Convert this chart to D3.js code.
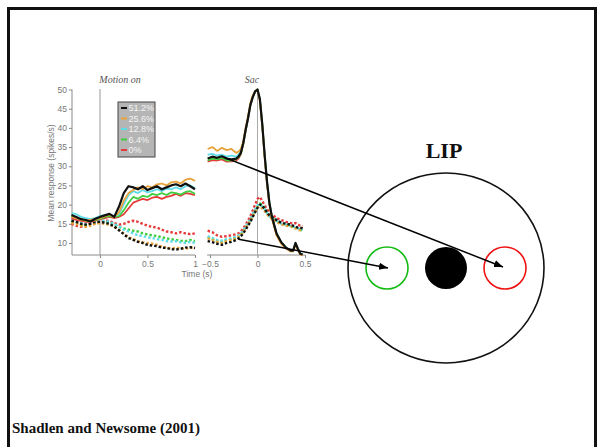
<!DOCTYPE html>
<html>
<head>
<meta charset="utf-8">
<script src="https://cdn.jsdelivr.net/npm/d3@7"></script>
<style>
  html, body { margin: 0; padding: 0; background: #fff; }
  svg { display: block; }
</style>
</head>
<body>
<svg id="chart" width="597" height="447"></svg>
<script>
// 코히런스 조건
var cohLabels = ["51.2%", "25.6%", "12.8%", "6.4%", "0%"];
var cohColors = ["#111111", "#e8a23a", "#5fdde6", "#3fce3f", "#e63a3a"];

// 자극 정렬 (Motion on) 시간축
var tMotion = [-0.3,-0.25,-0.2,-0.15,-0.1,-0.05,0,0.05,0.1,0.15,0.2,0.25,0.3,0.35,0.4,0.45,0.5,0.55,0.6,0.65,0.7,0.75,0.8,0.85,0.9,0.95,1.0];

// RF 안쪽 선택 (실선): 51.2, 25.6, 12.8, 6.4, 0
var motionIn = [
  [17.3,16.8,16.2,16.0,15.6,16.3,16.8,17.2,17.6,16.8,19.5,23.0,24.8,24.5,24.0,24.8,23.8,24.3,24.8,24.0,24.5,25.0,25.3,24.8,25.5,24.8,24.0],
  [16.8,16.5,16.0,15.8,16.0,16.2,16.5,17.0,17.3,16.8,18.0,21.0,23.0,23.8,24.5,24.0,24.8,24.5,25.3,25.5,25.0,25.8,26.0,25.5,26.5,26.8,26.2],
  [17.8,17.5,16.8,16.5,16.2,16.5,17.0,17.3,17.5,17.0,17.5,20.0,22.5,23.5,23.0,23.8,23.2,23.5,24.0,23.5,24.2,24.0,24.5,24.0,24.8,25.0,24.3],
  [17.0,16.5,16.2,15.8,15.8,16.0,16.3,16.8,17.0,16.8,17.0,18.5,20.5,22.0,21.5,22.3,22.0,22.8,22.5,23.0,22.5,23.2,23.0,22.6,23.3,23.5,22.8],
  [16.5,16.0,15.8,15.5,15.5,15.8,16.2,16.5,16.8,16.5,16.8,17.5,19.0,20.5,21.0,21.5,21.2,21.8,22.0,21.5,22.0,22.3,22.8,22.3,23.0,22.8,22.5]
];
// RF 바깥 선택 (점선)
var motionOut = [
  [15.8,15.5,15.0,14.8,15.0,15.5,15.5,15.3,15.0,14.3,13.3,12.3,11.3,10.8,10.3,10.0,9.5,9.3,9.2,8.8,8.7,8.4,8.3,8.5,8.8,8.9,8.7],
  [15.2,15.0,14.5,14.2,14.5,15.0,15.2,15.0,14.8,14.2,13.5,12.5,11.5,11.0,10.5,10.2,10.0,9.8,9.5,9.0,8.8,8.5,8.8,8.6,8.5,8.8,8.6],
  [16.0,15.5,15.2,15.0,15.3,15.6,15.8,15.8,15.5,15.0,14.3,13.5,13.0,12.5,12.0,11.8,11.5,11.3,11.0,10.8,10.5,10.4,10.5,10.2,10.0,10.3,10.0],
  [15.5,15.2,14.8,14.5,15.0,15.2,15.5,15.5,15.2,14.8,14.2,13.8,13.5,13.2,13.0,12.5,12.2,12.0,11.8,11.5,11.2,11.0,10.8,10.6,10.5,10.8,10.5],
  [15.0,14.5,14.2,14.8,15.0,15.2,15.5,15.8,15.8,15.2,14.8,15.0,15.5,15.8,15.5,15.0,14.5,14.2,14.0,13.5,13.0,12.8,12.5,12.8,12.5,12.3,12.5]
];

// 사카드 정렬 (Sac) 시간축
var tSac = [-0.525,-0.475,-0.425,-0.375,-0.325,-0.275,-0.225,-0.2,-0.175,-0.15,-0.125,-0.1,-0.075,-0.05,-0.025,0,0.025,0.05,0.075,0.1,0.125,0.15,0.2,0.25,0.3,0.35,0.375,0.4,0.425,0.45,0.475];

var sacIn = [
  [32.0,32.5,32.2,32.6,32.0,31.8,32.0,32.5,33.5,36.0,39.5,42.5,46.0,48.0,49.5,50.0,47.5,41.0,33.0,26.0,20.5,17.0,12.5,10.2,8.8,8.0,8.0,10.0,8.5,7.2,7.0],
  [34.5,35.0,34.0,34.8,34.2,34.5,33.5,33.8,34.5,36.5,40.0,43.0,46.5,48.5,49.5,50.0,47.0,40.5,32.5,25.5,20.0,16.5,12.0,9.8,8.5,7.8,7.8,9.5,8.2,7.0,6.8],
  [33.0,33.2,32.8,33.0,32.5,32.8,32.5,33.0,34.0,36.2,39.5,42.5,46.0,48.0,49.5,50.0,47.3,40.8,33.0,26.0,20.5,17.0,12.5,10.0,8.8,8.0,8.0,9.8,8.4,7.2,7.0],
  [31.5,32.0,31.8,32.2,31.5,31.5,31.8,32.3,33.3,36.0,39.3,42.5,46.0,48.0,49.5,50.0,47.5,41.0,33.0,26.0,20.5,17.0,12.5,10.2,8.8,8.0,8.0,10.0,8.5,7.2,7.0],
  [31.2,31.6,31.5,31.8,31.2,31.3,31.5,32.0,33.2,35.8,39.3,42.3,45.8,48.0,49.4,49.8,47.2,40.8,32.8,25.8,20.3,16.8,12.3,10.0,8.7,7.9,7.9,9.8,8.4,7.1,6.9]
];
var sacOut = [
  [10.5,10.2,9.8,9.5,10.0,10.3,10.8,11.2,11.8,12.5,13.5,14.5,15.5,16.8,18.0,19.2,20.0,19.8,18.8,18.0,17.2,16.8,16.0,15.3,15.0,14.8,14.5,14.3,14.0,14.0,13.8],
  [11.2,10.8,10.3,10.0,10.5,10.8,11.2,11.6,12.0,12.8,13.8,14.8,15.8,17.0,18.2,19.2,19.5,19.0,18.3,17.5,16.8,16.3,15.5,14.8,14.5,14.3,14.0,13.8,13.5,13.3,13.0],
  [11.8,11.3,10.8,10.6,11.0,11.2,11.6,12.0,12.5,13.3,14.2,15.2,16.2,17.5,18.8,19.8,20.0,19.5,18.8,17.8,17.0,16.6,15.8,15.0,14.8,14.5,14.3,14.0,13.8,13.6,13.4],
  [11.5,11.0,10.5,10.3,10.8,11.0,11.5,11.8,12.2,13.0,14.0,15.0,16.0,17.2,18.5,19.5,20.3,20.0,19.0,18.0,17.2,16.8,15.8,15.2,14.8,14.5,14.2,14.0,13.8,13.5,13.2],
  [13.2,12.8,12.0,11.6,11.8,12.0,12.3,12.5,13.0,13.8,14.8,15.8,17.0,18.5,20.0,21.5,22.0,21.0,19.8,18.8,18.0,17.5,16.5,16.0,15.5,15.2,15.0,15.2,14.8,14.5,14.3]
];

var yTicks = [10,15,20,25,30,35,40,45,50];
var xTicksMotion = [0, 0.5, 1];
var xTicksSac = [-0.5, 0, 0.5];

var svg = d3.select("#chart");

// 슬라이드 테두리
svg.append("path")
   .attr("d", "M8.5,447 L8.5,8.5 L595.5,8.5 L595.5,447")
   .attr("fill", "none").attr("stroke", "#111").attr("stroke-width", 3);

var y = d3.scaleLinear().domain([10, 50]).range([243, 89.5]);
var xM = d3.scaleLinear().domain([0, 1]).range([100, 195]);
var xS = d3.scaleLinear().domain([-0.5, 0.5]).range([210, 305]);
var axisY = 255;
var gray = "#8a8a8a";

// y축
var gy = svg.append("g").attr("transform", "translate(72,0)")
   .call(d3.axisLeft(y).tickValues(yTicks).tickSize(3).tickPadding(2));
gy.select(".domain").attr("d", "M0," + y(50) + "V" + axisY);
gy.selectAll("line, path").attr("stroke", gray);
gy.selectAll("text").attr("fill", "#777").attr("font-family", "Liberation Sans, Arial").attr("font-size", 8.5);

// x축 (왼쪽)
var gxm = svg.append("g").attr("transform", "translate(0," + axisY + ")")
   .call(d3.axisBottom(xM).tickValues(xTicksMotion).tickFormat(d3.format("")).tickSize(3).tickPadding(3));
gxm.select(".domain").attr("d", "M72,0H" + xM(1));
gxm.selectAll("line, path").attr("stroke", gray);
gxm.selectAll("text").attr("fill", "#777").attr("font-family", "Liberation Sans, Arial").attr("font-size", 8.5);

// x축 (오른쪽)
var gxs = svg.append("g").attr("transform", "translate(0," + axisY + ")")
   .call(d3.axisBottom(xS).tickValues(xTicksSac).tickFormat(d3.format("")).tickSize(3).tickPadding(3));
gxs.select(".domain").attr("d", "M" + xS(-0.53) + ",0H" + xS(0.5));
gxs.selectAll("line, path").attr("stroke", gray);
gxs.selectAll("text").attr("fill", "#777").attr("font-family", "Liberation Sans, Arial").attr("font-size", 8.5);

// 기준 수직선
svg.append("line").attr("x1", xM(0)).attr("x2", xM(0)).attr("y1", 89).attr("y2", axisY)
   .attr("stroke", "#999").attr("stroke-width", 1);
svg.append("line").attr("x1", xS(0)).attr("x2", xS(0)).attr("y1", 89).attr("y2", axisY)
   .attr("stroke", "#aaa").attr("stroke-width", 1);

// 라벨
svg.append("text").attr("x", 120).attr("y", 83).attr("text-anchor", "middle")
   .attr("font-family", "Liberation Serif, Times New Roman").attr("font-style", "italic")
   .attr("font-size", 10).attr("fill", "#555").text("Motion on");
svg.append("text").attr("x", 252).attr("y", 83).attr("text-anchor", "middle")
   .attr("font-family", "Liberation Serif, Times New Roman").attr("font-style", "italic")
   .attr("font-size", 10).attr("fill", "#555").text("Sac");
svg.append("text").attr("transform", "translate(54,173) rotate(-90)").attr("text-anchor", "middle")
   .attr("font-family", "Liberation Sans, Arial").attr("font-size", 8.5).attr("fill", "#777")
   .text("Mean response (spikes/s)");
svg.append("text").attr("x", 197).attr("y", 277).attr("text-anchor", "middle")
   .attr("font-family", "Liberation Sans, Arial").attr("font-size", 8.5).attr("fill", "#777")
   .text("Time (s)");

// 곡선 그리기
function draw_curves(times, sets, xs, dashed){
    var line = d3.line().x(function(d, i){ return xs(times[i]); }).y(function(d){ return y(d); });
    for (var k = sets.length - 1; k >= 0; k--) {
        var p = svg.append("path").datum(sets[k])
           .attr("d", line).attr("fill", "none")
           .attr("stroke", cohColors[k])
           .attr("stroke-width", k == 0 ? 2.2 : 1.8)
           .attr("stroke-linejoin", "round");
        if (dashed) p.attr("stroke-dasharray", "2.5,2").attr("stroke-width", 2.4);
    }
}
draw_curves(tMotion, motionOut, xM, true);
draw_curves(tMotion, motionIn, xM, false);
draw_curves(tSac, sacOut, xS, true);
draw_curves(tSac, sacIn, xS, false);

// 범례
var lg = svg.append("g").attr("transform", "translate(118,102)");
lg.append("rect").attr("width", 37).attr("height", 55)
  .attr("fill", "#b5b5b5").attr("stroke", "#444").attr("stroke-width", 1);
cohLabels.forEach(function(lab, i){
    var yy = 6 + i * 10.5;
    lg.append("line").attr("x1", 3).attr("x2", 9).attr("y1", yy).attr("y2", yy)
      .attr("stroke", cohColors[i]).attr("stroke-width", 2);
    lg.append("text").attr("x", 10.5).attr("y", yy + 3).attr("font-family", "Liberation Sans, Arial")
      .attr("font-size", 9).attr("fill", "#f4f4f4").text(lab);
});

// LIP 도식
var cx = 446, cy = 268;
svg.append("text").attr("x", 444).attr("y", 158).attr("text-anchor", "middle")
   .attr("font-family", "Liberation Serif, Times New Roman").attr("font-weight", "bold")
   .attr("font-size", 22).attr("fill", "#111").text("LIP");
svg.append("ellipse").attr("cx", cx).attr("cy", cy).attr("rx", 98).attr("ry", 95)
   .attr("fill", "none").attr("stroke", "#111").attr("stroke-width", 1.6);
svg.append("circle").attr("cx", cx - 59).attr("cy", cy).attr("r", 21)
   .attr("fill", "none").attr("stroke", "#11bb11").attr("stroke-width", 1.6);
svg.append("circle").attr("cx", cx).attr("cy", cy).attr("r", 21).attr("fill", "#000");
svg.append("circle").attr("cx", cx + 59).attr("cy", cy).attr("r", 21)
   .attr("fill", "none").attr("stroke", "#ee1111").attr("stroke-width", 1.6);

// 화살표
svg.append("defs").append("marker").attr("id", "ah").attr("viewBox", "0 0 10 10")
   .attr("refX", 10).attr("refY", 5).attr("markerWidth", 6).attr("markerHeight", 6)
   .attr("orient", "auto").append("path").attr("d", "M0,1L10,5L0,9Z").attr("fill", "#000");
svg.append("line").attr("x1", xS(-0.35)).attr("y1", y(32.3)).attr("x2", cx + 57).attr("y2", cy - 1)
   .attr("stroke", "#000").attr("stroke-width", 1.5).attr("marker-end", "url(#ah)");
svg.append("line").attr("x1", xS(-0.2)).attr("y1", y(11)).attr("x2", cx - 58).attr("y2", cy)
   .attr("stroke", "#000").attr("stroke-width", 1.5).attr("marker-end", "url(#ah)");

// 출처
svg.append("text").attr("x", 12).attr("y", 433)
   .attr("font-family", "Liberation Serif, Times New Roman").attr("font-weight", "bold")
   .attr("font-size", 15).attr("fill", "#111").text("Shadlen and Newsome (2001)");
</script>
</body>
</html>
